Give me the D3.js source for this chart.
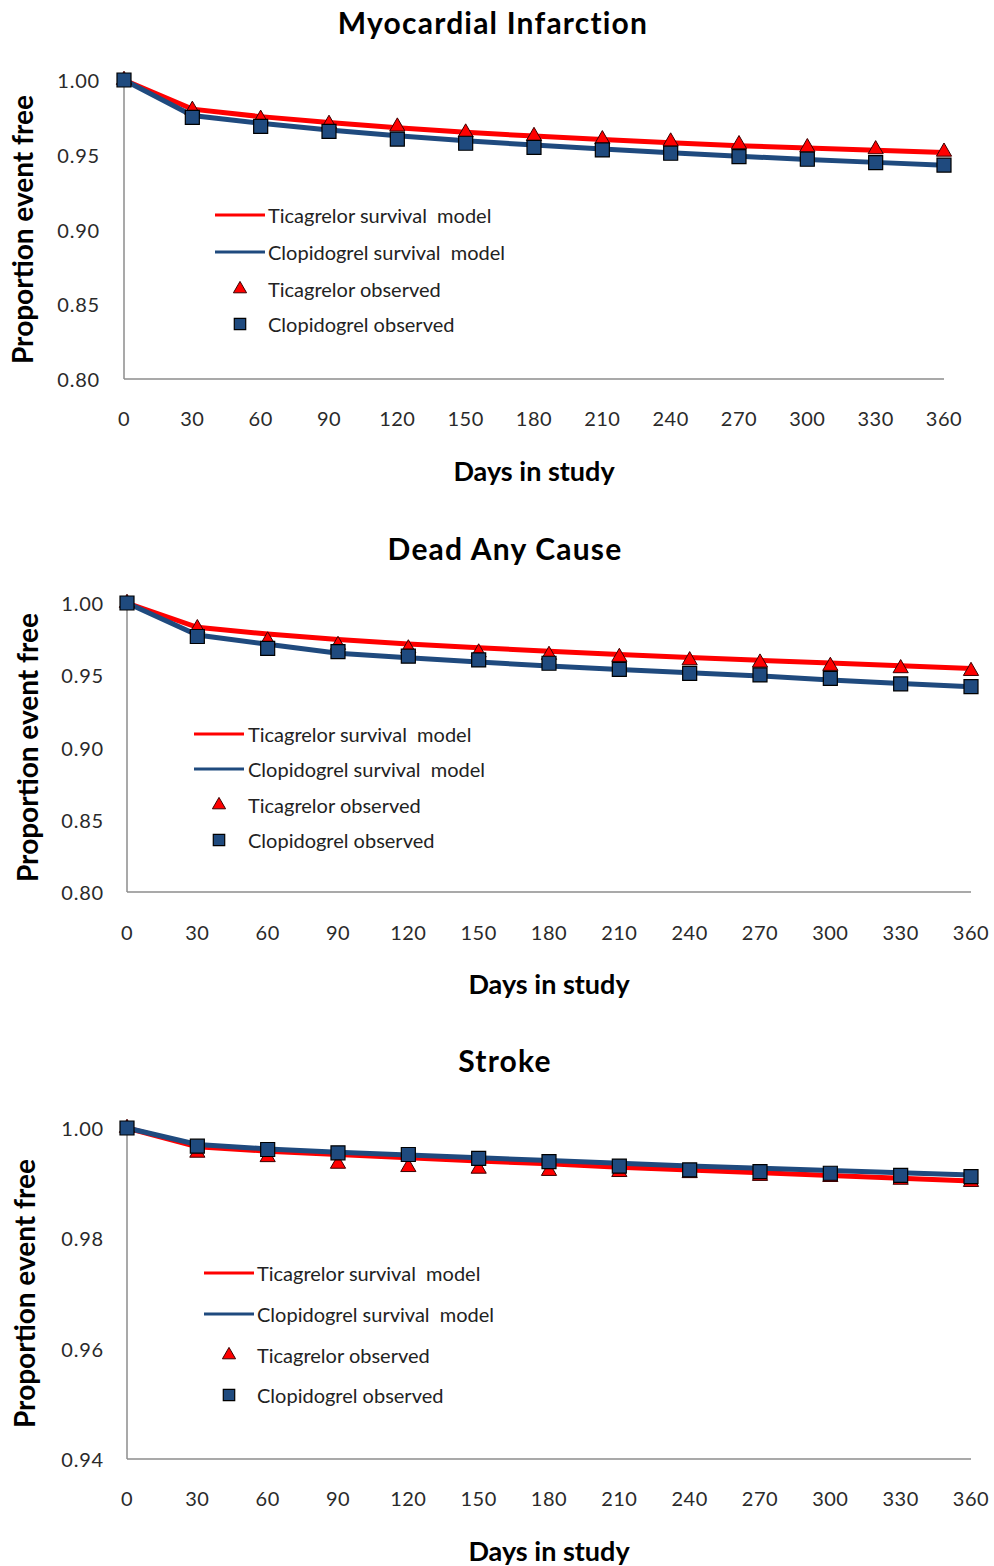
<!DOCTYPE html>
<html>
<head>
<meta charset="utf-8">
<script src="https://cdn.jsdelivr.net/npm/d3@7"></script>
<style>
  body { margin: 0; background: #fff; }
  svg { display: block; font-family: Lato, 'Open Sans', sans-serif; }
</style>
</head>
<body>
<div id="chart"></div>
<script>
const days = [0, 30, 60, 90, 120, 150, 180, 210, 240, 270, 300, 330, 360]

// Myocardial infarction
const miTicModel = [1.0, 0.9805, 0.9755, 0.9715, 0.968, 0.965, 0.9625, 0.9602, 0.958, 0.956, 0.9545, 0.953, 0.9515]
const miClopModel = [1.0, 0.9762, 0.971, 0.9665, 0.9627, 0.9594, 0.9565, 0.9538, 0.9513, 0.949, 0.9469, 0.9449, 0.943]
const miTicObs = [1.0, 0.980, 0.974, 0.9706, 0.9688, 0.9648, 0.9625, 0.9603, 0.9588, 0.957, 0.955, 0.9536, 0.952]
const miClopObs = [1.0, 0.975, 0.969, 0.9657, 0.9605, 0.9577, 0.955, 0.9532, 0.951, 0.9487, 0.947, 0.9447, 0.9431]

// Dead any cause
const daTicModel = [1.0, 0.9832, 0.9785, 0.9748, 0.9717, 0.969, 0.9666, 0.9644, 0.9623, 0.9603, 0.9584, 0.9565, 0.9547]
const daClopModel = [1.0, 0.9778, 0.9715, 0.9653, 0.9621, 0.9592, 0.9564, 0.954, 0.9517, 0.9495, 0.9467, 0.9443, 0.942]
const daTicObs = [1.0, 0.9825, 0.974, 0.9709, 0.9685, 0.9657, 0.964, 0.9626, 0.9603, 0.9587, 0.9564, 0.9548, 0.9529]
const daClopObs = [1.0, 0.9768, 0.9686, 0.9663, 0.9632, 0.9606, 0.9583, 0.954, 0.9513, 0.9502, 0.9479, 0.944, 0.9421]

// Stroke
const stTicModel = [1.0, 0.9966, 0.9958, 0.9952, 0.9946, 0.994, 0.9935, 0.9929, 0.9924, 0.9919, 0.9914, 0.9909, 0.9904]
const stClopModel = [1.0, 0.997, 0.9962, 0.9956, 0.9951, 0.9946, 0.9941, 0.9936, 0.9931, 0.9927, 0.9923, 0.9919, 0.9915]
const stTicObs = [1.0, 0.9955, 0.9947, 0.9935, 0.9929, 0.9926, 0.9922, 0.992, 0.9918, 0.9913, 0.9911, 0.9906, 0.9902]
const stClopObs = [1.0, 0.9967, 0.9961, 0.9955, 0.9952, 0.9945, 0.9939, 0.9931, 0.9924, 0.9921, 0.9918, 0.9914, 0.9912]

const miTicks = [0.80, 0.85, 0.90, 0.95, 1.00]
const stTicks = [0.94, 0.96, 0.98, 1.00]
const legendLabels = ['Ticagrelor survival  model', 'Clopidogrel survival  model', 'Ticagrelor observed', 'Clopidogrel observed']

const red = '#ff0000'
const blue = '#1f4a7e'

const panels = [
  {
    title: 'Myocardial Infarction', titleX: 493, titleY: 22,
    left: 124, right: 944, top: 80, bottom: 379,
    domain: [0.8, 1.0], ticks: miTicks,
    yLabelX: 100, yTitleX: 22, xLabelY: 418, xTitleY: 470,
    legend: { x0: 215, x1: 265, mx: 240, tx: 268, ys: [215, 252, 289, 324] },
    tic: miTicModel, clop: miClopModel, ticObs: miTicObs, clopObs: miClopObs
  },
  {
    title: 'Dead Any Cause', titleX: 505, titleY: 548,
    left: 127, right: 971, top: 603, bottom: 892,
    domain: [0.8, 1.0], ticks: miTicks,
    yLabelX: 104, yTitleX: 27, xLabelY: 932, xTitleY: 983,
    legend: { x0: 194, x1: 244, mx: 219, tx: 248, ys: [734, 769, 805, 840] },
    tic: daTicModel, clop: daClopModel, ticObs: daTicObs, clopObs: daClopObs
  },
  {
    title: 'Stroke', titleX: 505, titleY: 1060,
    left: 127, right: 971, top: 1128, bottom: 1459,
    domain: [0.94, 1.0], ticks: stTicks,
    yLabelX: 104, yTitleX: 24, xLabelY: 1498, xTitleY: 1550,
    legend: { x0: 204, x1: 254, mx: 229, tx: 257, ys: [1273, 1314, 1355, 1395] },
    tic: stTicModel, clop: stClopModel, ticObs: stTicObs, clopObs: stClopObs
  }
]

const svg = d3
  .select('#chart')
  .append('svg')
  .attr('width', 994)
  .attr('height', 1566)

const triangle = d3.symbol().type(d3.symbolTriangle)
const square = d3.symbol().type(d3.symbolSquare)

panels.forEach(function(p) {
  const g = svg.append('g')
  const x = d3.scaleLinear().domain([0, 360]).range([p.left, p.right])
  const y = d3.scaleLinear().domain(p.domain).range([p.bottom, p.top])

  // title
  g.append('text')
    .attr('x', p.titleX)
    .attr('y', p.titleY)
    .attr('text-anchor', 'middle')
    .attr('dominant-baseline', 'central')
    .attr('font-size', 30)
    .attr('font-weight', 'bold')
    .attr('letter-spacing', 1.2)
    .attr('fill', '#000')
    .text(p.title)

  // axes lines, no ticks
  g.append('line')
    .attr('x1', p.left).attr('x2', p.left)
    .attr('y1', p.top).attr('y2', p.bottom)
    .attr('stroke', '#8c8c8c').attr('stroke-width', 1.5)
  g.append('line')
    .attr('x1', p.left).attr('x2', p.right)
    .attr('y1', p.bottom).attr('y2', p.bottom)
    .attr('stroke', '#8c8c8c').attr('stroke-width', 1.5)

  g.selectAll('.ylab')
    .data(p.ticks)
    .enter()
    .append('text')
    .attr('x', p.yLabelX)
    .attr('y', d => y(d))
    .attr('text-anchor', 'end')
    .attr('dominant-baseline', 'central')
    .attr('font-size', 20)
    .attr('letter-spacing', 0.8)
    .attr('fill', '#2a2a2a')
    .text(d3.format('.2f'))

  g.selectAll('.xlab')
    .data(days)
    .enter()
    .append('text')
    .attr('x', d => x(d))
    .attr('y', p.xLabelY)
    .attr('text-anchor', 'middle')
    .attr('dominant-baseline', 'central')
    .attr('font-size', 20)
    .attr('letter-spacing', 0.5)
    .attr('fill', '#2a2a2a')
    .text(d => d)

  g.append('text')
    .attr('x', (p.left + p.right) / 2)
    .attr('y', p.xTitleY)
    .attr('text-anchor', 'middle')
    .attr('dominant-baseline', 'central')
    .attr('font-size', 27)
    .attr('font-weight', 'bold')
    .text('Days in study')

  g.append('text')
    .attr('transform', `translate(${p.yTitleX},${(p.top + p.bottom) / 2}) rotate(-90)`)
    .attr('text-anchor', 'middle')
    .attr('dominant-baseline', 'central')
    .attr('font-size', 28)
    .attr('font-weight', 'bold')
    .text('Proportion event free')

  const line = d3.line()
    .x((d, i) => x(days[i]))
    .y(d => y(d))

  g.append('path')
    .attr('d', line(p.tic))
    .attr('fill', 'none')
    .attr('stroke', red)
    .attr('stroke-width', 5)
  g.append('path')
    .attr('d', line(p.clop))
    .attr('fill', 'none')
    .attr('stroke', blue)
    .attr('stroke-width', 5)

  g.selectAll('.tri')
    .data(p.ticObs)
    .enter()
    .append('path')
    .attr('d', triangle.size(100))
    .attr('transform', (d, i) => `translate(${x(days[i])},${y(d)})`)
    .attr('fill', red)
    .attr('stroke', '#3a0000')
    .attr('stroke-width', 1)

  g.selectAll('.sq')
    .data(p.clopObs)
    .enter()
    .append('path')
    .attr('d', square.size(196))
    .attr('transform', (d, i) => `translate(${x(days[i])},${y(d)})`)
    .attr('fill', blue)
    .attr('stroke', '#000')
    .attr('stroke-width', 1.2)

  // legend
  const lg = p.legend
  g.append('line')
    .attr('x1', lg.x0).attr('x2', lg.x1)
    .attr('y1', lg.ys[0]).attr('y2', lg.ys[0])
    .attr('stroke', red).attr('stroke-width', 3)
  g.append('line')
    .attr('x1', lg.x0).attr('x2', lg.x1)
    .attr('y1', lg.ys[1]).attr('y2', lg.ys[1])
    .attr('stroke', blue).attr('stroke-width', 3)
  g.append('path')
    .attr('d', triangle.size(75))
    .attr('transform', `translate(${lg.mx},${lg.ys[2]})`)
    .attr('fill', red)
    .attr('stroke', '#3a0000')
    .attr('stroke-width', 1)
  g.append('path')
    .attr('d', square.size(130))
    .attr('transform', `translate(${lg.mx},${lg.ys[3]})`)
    .attr('fill', blue)
    .attr('stroke', '#000')
    .attr('stroke-width', 1.2)

  g.selectAll('.legtext')
    .data(legendLabels)
    .enter()
    .append('text')
    .attr('x', lg.tx)
    .attr('y', (d, i) => lg.ys[i])
    .attr('dominant-baseline', 'central')
    .attr('font-size', 20)
    .attr('fill', '#222')
    .style('white-space', 'pre')
    .text(d => d)
})
</script>
</body>
</html>
